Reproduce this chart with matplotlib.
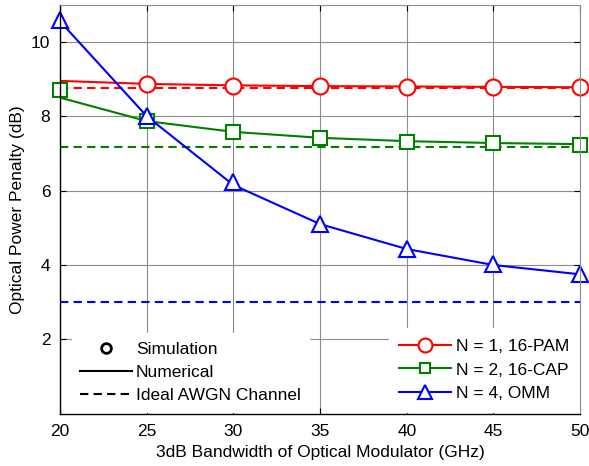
import matplotlib
matplotlib.use("Agg")
import matplotlib.pyplot as plt
from matplotlib.lines import Line2D

plt.rcParams["font.family"] = ["Liberation Sans", "DejaVu Sans"]
plt.rcParams["font.size"] = 12.5

bandwidth = [20, 25, 30, 35, 40, 45, 50]
sim_bandwidth_pam = [25, 30, 35, 40, 45, 50]

# numerical results
pam_numerical = [8.95, 8.87, 8.83, 8.81, 8.80, 8.79, 8.78]
cap_numerical = [8.50, 7.87, 7.58, 7.42, 7.33, 7.28, 7.25]
omm_numerical = [10.55, 8.00, 6.15, 5.10, 4.43, 4.00, 3.75]

# simulation results
pam_simulation = [8.87, 8.82, 8.80, 8.79, 8.79, 8.78]
cap_simulation = [8.71, 7.87, 7.58, 7.42, 7.32, 7.28, 7.24]
omm_simulation = [10.58, 8.01, 6.22, 5.09, 4.42, 4.02, 3.76]

# ideal AWGN channel penalties
pam_ideal = 8.77
cap_ideal = 7.16
omm_ideal = 3.0

series_labels = ["N = 1, 16-PAM", "N = 2, 16-CAP", "N = 4, OMM"]
style_labels = ["Simulation", "Numerical", "Ideal AWGN Channel"]

fig = plt.figure(figsize=(5.89, 4.66), dpi=100)
ax = fig.add_axes([0.102, 0.112, 0.883, 0.878])

red = "#ff0000"
green = "#008000"
blue = "#0000ff"
lw = 1.5
dash = (4, 2.5)

ax.plot(bandwidth, pam_numerical, color=red, lw=lw, zorder=3)
ax.plot(bandwidth, cap_numerical, color=green, lw=lw, zorder=3)
ax.plot(bandwidth, omm_numerical, color=blue, lw=lw, zorder=3)

ax.plot([bandwidth[0], bandwidth[-1]], [pam_ideal] * 2, color=red, lw=lw, ls="--", dashes=dash, zorder=2)
ax.plot([bandwidth[0], bandwidth[-1]], [cap_ideal] * 2, color=green, lw=lw, ls="--", dashes=dash, zorder=2)
ax.plot([bandwidth[0], bandwidth[-1]], [omm_ideal] * 2, color=blue, lw=lw, ls="--", dashes=dash, zorder=2)

ax.plot(sim_bandwidth_pam, pam_simulation, ls="none", marker="o", ms=11.5,
        mfc="white", mec=red, mew=1.5, zorder=4, clip_on=False)
ax.plot(bandwidth, cap_simulation, ls="none", marker="s", ms=10,
        mfc="white", mec=green, mew=1.5, zorder=4, clip_on=False)
ax.plot(bandwidth, omm_simulation, ls="none", marker="^", ms=12,
        mfc="white", mec=blue, mew=1.5, zorder=4, clip_on=False)

ax.set_xlim(20, 50)
ax.set_ylim(0, 11)
ax.set_xticks(bandwidth)
ax.set_yticks([2, 4, 6, 8, 10])
ax.grid(True, color="#8c8c8c", lw=0.8)
ax.set_axisbelow(True)
ax.tick_params(direction="in", length=4, top=True, right=True, labelsize=12.5, pad=7)
for side in ["top", "right"]:
    ax.spines[side].set_color("#8c8c8c")
for side in ["left", "bottom"]:
    ax.spines[side].set_linewidth(1.0)
for spine in ax.spines.values():
    spine.set_zorder(6)

ax.set_xlabel("3dB Bandwidth of Optical Modulator (GHz)", labelpad=5)
ax.set_ylabel("Optical Power Penalty (dB)", labelpad=4)

# legend for the line styles (black proxies)
style_handles = [
    Line2D([], [], ls="none", marker="o", ms=7, mfc="white", mec="black", mew=2),
    Line2D([], [], color="black", lw=lw),
    Line2D([], [], color="black", lw=lw, ls="--", dashes=dash),
]
style_legend = ax.legend(style_handles, style_labels,
                         loc="lower left", bbox_to_anchor=(0.022, 0.005), borderaxespad=0,
                         frameon=True, fancybox=False, edgecolor="white", framealpha=1,
                         handlelength=3.0, handletextpad=0.2, labelspacing=0.45,
                         borderpad=0.5)
ax.add_artist(style_legend)

# legend for the three schemes
series_handles = [
    Line2D([], [], color=red, lw=lw, marker="o", ms=10, mfc="white", mec=red, mew=1.5),
    Line2D([], [], color=green, lw=lw, marker="s", ms=7, mfc="white", mec=green, mew=1.5),
    Line2D([], [], color=blue, lw=lw, marker="^", ms=10, mfc="white", mec=blue, mew=1.5),
]
series_legend = ax.legend(series_handles, series_labels,
                          loc="lower right", bbox_to_anchor=(1, 0.005), borderaxespad=0,
                          frameon=True, fancybox=False, edgecolor="white", framealpha=1,
                          handlelength=3.0, handletextpad=0.3, labelspacing=0.5,
                          borderpad=0.6)
series_legend.set_zorder(5)
style_legend.set_zorder(5)

fig.savefig("out.png", dpi=100)
